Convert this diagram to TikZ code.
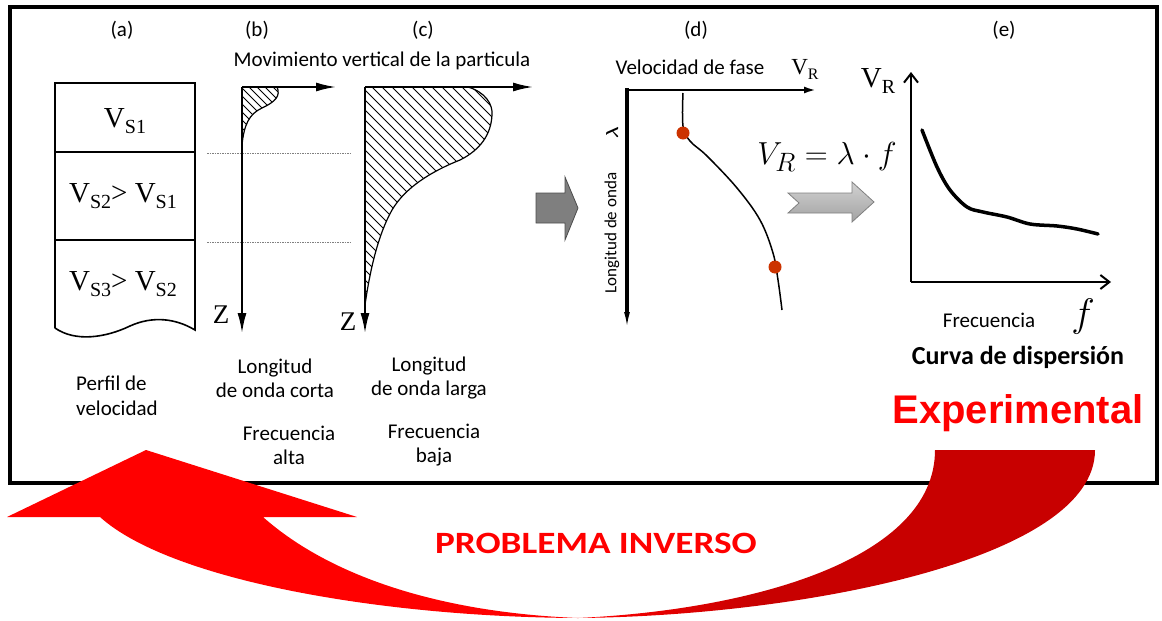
\documentclass[tikz,border=0pt]{standalone}
\usepackage{amsmath}
\usepackage{amssymb}
\usepackage{bm}
\usepackage{fontspec}
\setmainfont{Carlito}
\newfontfamily\timesf{Liberation Serif}
\newfontfamily\arialf{Liberation Sans}
\usetikzlibrary{arrows.meta}
\definecolor{dkred}{HTML}{C80000}
\definecolor{redc}{HTML}{FF0000}
\definecolor{dotred}{HTML}{CC3300}
\definecolor{gdark}{HTML}{7F7F7F}
\definecolor{glight}{HTML}{B4B4B4}
\pgfdeclarehorizontalshading{redgrad}{100bp}{color(0bp)=(redc); color(25bp)=(redc); color(42bp)=(dkred); color(100bp)=(dkred)}
\newcommand{\fsz}[1]{\fontsize{#1}{#1}\selectfont}
\newcommand{\Vsub}[1]{V\raisebox{-6pt}{\fontsize{20}{20}\selectfont #1}}
\newcommand{\VsubS}[1]{V\raisebox{-5pt}{\fontsize{16}{16}\selectfont #1}}
\begin{document}
\begin{tikzpicture}[x=1pt,y=-1pt,
  txt/.style={font=\fsz{21}, inner sep=0pt},
  mtxt/.style={font=\fsz{21}, inner sep=0pt, align=center},
  vlab/.style={font=\timesf\fsz{29}, inner sep=0pt},
  zlab/.style={font=\timesf\fsz{27}, inner sep=0pt},
  bigax/.style={line width=1.8pt, -{Latex[length=20pt,width=9pt]}},
  dax/.style={line width=2.2pt, -{Latex[length=12pt,width=7pt]}},
  eax/.style={line width=2.2pt, -{Straight Barb[length=9pt,width=14pt,line width=2pt]}},
  hatchln/.style={line width=0.8pt},
  prof/.style={line width=1.2pt},
  dotline/.style={gray, line width=0.9pt, dash pattern=on 1.5pt off 1pt},
  rdot/.style={fill=dotred, draw=none},
]
\useasboundingbox (0,0) rectangle (1162,621);
% frame
\draw[line width=3.5pt] (10,7) rectangle (1157,483);

% labels (a)-(e)
\node[txt] (la) at (122,30) {(a)};
\node[txt] (lb) at (257,30) {(b)};
\node[txt] (lc) at (423,30) {(c)};
\node[txt] (ld) at (696,30) {(d)};
\node[txt] (le) at (1004,30) {(e)};

% (a) velocity profile
\draw[line width=1.6pt] (55,328) -- (55,83) -- (195,83) -- (195,330)
  .. controls (175,318) and (152,316) .. (130,326)
  .. controls (105,338) and (75,342) .. (55,328);
\draw[line width=1.6pt] (55,152) -- (195,152);
\draw[line width=1.6pt] (55,240) -- (195,240);
\node[vlab] (v1) at (125,121) {\Vsub{S1}};
\node[vlab] (v2) at (123,196) {\Vsub{S2}> \Vsub{S1}};
\node[vlab] (v3) at (123,284) {\Vsub{S3}> \Vsub{S2}};
\node[mtxt, align=left, anchor=west] (perfil) at (76,396) {Perfil de\\[4pt]velocidad};

% dotted layer lines
\draw[dotline] (207,153) -- (350,153);
\draw[dotline] (207,242) -- (350,242);

% (b)
\coordinate (ob) at (242,87);
\coordinate (bz) at (242,333);
\coordinate (bx) at (336,87);
\begin{scope}
\clip (242,87) -- (277,87) .. controls (281,96) and (275,102) .. (262,108)
  .. controls (249,114) and (244,125) .. (242,145) -- cycle;
\foreach \k in {-120,-112,...,60} \draw[hatchln] (242+\k,80) -- ++(80,80);
\end{scope}
\draw[prof] (242,87) -- (277,87) .. controls (281,96) and (275,102) .. (262,108)
  .. controls (249,114) and (244,125) .. (242,145);
\draw[bigax] (ob) -- (bz);
\draw[bigax] (ob) -- (bx);
\node[zlab] (zb) at (221,315) {Z};
\node[mtxt] (tb1) at (275,378) {Longitud\\[3pt]de onda corta};
\node[mtxt] (tb2) at (289,445) {Frecuencia\\[3pt]alta};

% (c)
\coordinate (oc) at (365,87);
\coordinate (cz) at (365,333);
\coordinate (cx) at (533,87);
\begin{scope}
\clip (365,87) -- (468,87) .. controls (485,92) and (493,104) .. (492,115)
  .. controls (491,135) and (480,150) .. (460,160)
  .. controls (430,172) and (405,188) .. (392,210)
  .. controls (378,235) and (370,270) .. (365,305) -- cycle;
\foreach \k in {-260,-250,...,140} \draw[hatchln] (365+\k,80) -- ++(240,240);
\end{scope}
\draw[prof] (468,87) .. controls (485,92) and (493,104) .. (492,115)
  .. controls (491,135) and (480,150) .. (460,160)
  .. controls (430,172) and (405,188) .. (392,210)
  .. controls (378,235) and (370,270) .. (365,305);
\draw[bigax] (oc) -- (cz);
\draw[bigax] (oc) -- (cx);
\node[zlab] (zc) at (348,322) {Z};
\node[mtxt] (tc1) at (429,378) {Longitud\\[3pt]de onda larga};
\node[mtxt] (tc2) at (434,445) {Frecuencia\\[3pt]baja};

\node[txt] (mov) at (382,61) {Movimiento vertical de la particula};

% dark gray block arrow
\draw[fill=gdark, draw=black!70, line width=0.8pt] (536,193) -- (565,193) -- (565,177) -- (578,208)
  -- (565,240) -- (565,223) -- (536,223) -- cycle;

% (d)
\coordinate (od) at (627,90);
\coordinate (dx) at (816,90);
\coordinate (dz) at (627,326);
\draw[dax] (od) -- (dx);
\draw[line width=4pt] (627,88) -- (627,312);
\draw[line width=1.5pt, -{Latex[length=14pt,width=6pt]}] (627,305) -- (dz);
\node[txt] (vfase) at (690,67) {Velocidad de fase};
\node[font=\timesf\fsz{23}, inner sep=0pt] (vrd) at (805,69) {\VsubS{R}};
\node[font=\fsz{17}, inner sep=0pt, rotate=90] (lam) at (612,133) {$\bm{\lambda}$};
\node[font=\fsz{17}, inner sep=0pt, rotate=90] (lond) at (612,233) {Longitud de onda};
\draw[line width=1.5pt] plot[smooth, tension=0.6] coordinates {(683,93) (683,126) (690,141) (707,156) (737,188) (760,220) (773,253) (778,280) (782,310)};
\fill[rdot] (683,133) circle (6.5);
\fill[rdot] (775,267) circle (6.5);

% formula and light arrow
\node[font=\fsz{24.88}, inner sep=0pt] (form) at (827,157) {\scalebox{1.28}{$V_R = \lambda\cdot f$}};
\shade[top color=glight!60, bottom color=glight!90!black, draw=gray, line width=0.8pt]
  (788,193) -- (852,193) -- (852,182) -- (874,202) -- (852,222) -- (852,213) -- (788,213) -- (799,203) -- cycle;

% (e)
\coordinate (oe) at (911,282);
\coordinate (ey) at (911,72);
\coordinate (ex) at (1111,282);
\draw[eax] (oe) -- (ey);
\draw[eax] (oe) -- (ex);
\node[font=\timesf\fsz{29}, inner sep=0pt] (vre) at (878,81) {\Vsub{R}};
\draw[line width=3.5pt, line cap=round] plot[smooth, tension=0.55] coordinates {(922,130) (937,167) (950,190) (967,207) (983,212) (1007,217) (1030,224) (1057,226) (1077,229) (1098,234)};
\node[txt] (frec) at (989,320) {Frecuencia};
\node[font=\fsz{24.88}, inner sep=0pt] (fsym) at (1083,317) {\scalebox{1.6}{$f$}};
\node[font=\fsz{26}\bfseries, inner sep=0pt] (curva) at (1018,357) {Curva de dispersión};
\node[font=\arialf\bfseries\fsz{40}, text=redc, inner sep=0pt] (exper) at (1018,413) {Experimental};

% big red curved arrow
\fill[redc] (146,450) -- (357,517) -- (263,517)
  .. controls (325,572) and (430,612) .. (578,618)
  .. controls (380,617) and (170,580) .. (100,517)
  -- (7,517) -- cycle;
\shade[shading=redgrad] (578,618) .. controls (800,616) and (1095,560) .. (1095,450)
  -- (935,450) .. controls (935,560) and (750,610) .. (578,618) -- cycle;
\node[font=\fsz{31}\bfseries, text=redc, inner sep=0pt] (inv) at (596,543) {\scalebox{1.2}[1]{PROBLEMA INVERSO}};
\end{tikzpicture}
\end{document}
